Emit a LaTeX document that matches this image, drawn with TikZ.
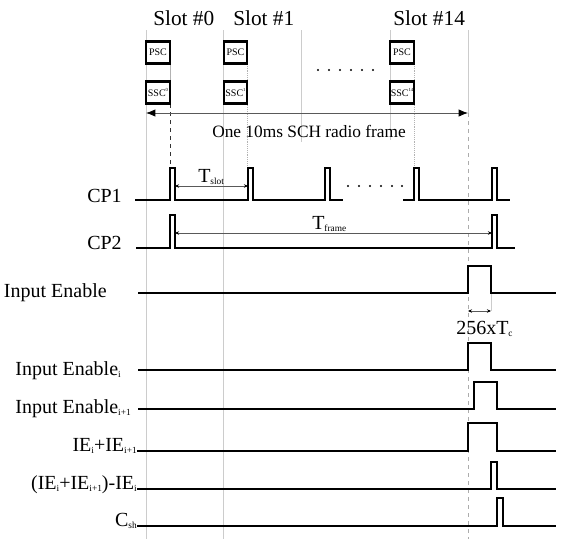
\documentclass[tikz,border=0pt]{standalone}
\usepackage{fontspec}
\setmainfont{Liberation Serif}
\usetikzlibrary{arrows.meta}
\newcommand{\sbs}[1]{\raisebox{-0.3ex}{\fontsize{7}{7}\selectfont #1}}
\newcommand{\sps}[1]{\raisebox{0.9ex}{\fontsize{3.5}{4}\selectfont #1}}
\begin{document}
\begin{tikzpicture}[x=0.75pt,y=-0.75pt,
  sig/.style={line width=1.3pt, line join=miter},
  gridline/.style={gray!40, line width=0.4pt},
  dotline/.style={gray!60, line width=0.4pt, densely dotted},
  lbl/.style={font=\fontsize{15}{15}\selectfont, anchor=base east, inner sep=0pt},
  slotlbl/.style={font=\fontsize{16}{16}\selectfont, anchor=base west, inner sep=0pt},
  codebox/.style={draw, fill=white, line width=1.7pt, minimum width=17.5pt, minimum height=16.5pt, inner sep=0pt, font=\fontsize{7.5}{7.5}\selectfont},
  dimarrow/.style={gray!70!black, line width=0.5pt, {Stealth[length=3pt,width=2.6pt,color=black]}-{Stealth[length=3pt,width=2.6pt,color=black]}},
  bigarrow/.style={gray!70!black, line width=0.6pt, {Latex[length=7pt,width=5.5pt,color=black]}-{Latex[length=7pt,width=5.5pt,color=black]}},
  dimtext/.style={font=\fontsize{15}{15}\selectfont, anchor=base west, inner sep=0pt},
]
\useasboundingbox (0,0) rectangle (564,539);

% ---------- vertical guide lines ----------
\draw[gridline] (146,30) -- (146,539);
\draw[gridline] (223,30) -- (223,539);
\draw[gridline] (301,30) -- (301,142);
\draw[gridline] (390,30) -- (390,140);
\draw[gridline] (468,30) -- (468,113);
\draw[gray!65, line width=0.6pt, dashed] (468,113) -- (468,539);
\draw[dotline] (247.5,64) -- (247.5,168);
\draw[dotline] (414,64) -- (414,168);
\draw[gray!60, line width=0.4pt] (170,64) -- (170,81);
\draw[black!80, line width=0.5pt, dashed] (170,104) -- (170,168);
\draw[gray!40, line width=0.4pt] (491,293) -- (491,311);

% ---------- slot labels ----------
\node[slotlbl] (s0) at (153,26) {Slot \#0};
\node[slotlbl] (s1) at (233,26) {Slot \#1};
\node[slotlbl] (s14) at (393,26) {Slot \#14};

% ---------- code boxes ----------
\node[codebox] (psc0) at (158,52.5) {PSC};
\node[codebox] (ssc0) at (158,92.5) {SSC\sps{0}};
\node[codebox] (psc1) at (235.5,52.5) {PSC};
\node[codebox] (ssc1) at (235.5,92.5) {SSC\sps{1}};
\node[codebox] (psc14) at (402,52.5) {PSC};
\node[codebox] (ssc14) at (402,92.5) {SSC\sps{14}};

% dots between slots
\foreach \xx in {318,329,340,351,362,373} \fill (\xx,70) circle (0.9pt);
\foreach \xx in {348,359,370,381,392,402} \fill (\xx,186) circle (0.9pt);

% ---------- radio frame arrow ----------
\coordinate (rfL) at (146,113);
\coordinate (rfR) at (468,113);
\draw[bigarrow] (rfL) -- (rfR);
\node[font=\fontsize{13}{13}\selectfont, anchor=base west, inner sep=0pt] (rf) at (212,137) {One 10ms SCH radio frame};

% ---------- signal labels ----------
\node[lbl] (cp1) at (122,202) {CP1};
\node[lbl] (cp2) at (122,249) {CP2};
\node[lbl] (ie) at (107,297) {Input Enable};
\node[lbl] (iei) at (121,375) {Input Enable\sbs{i}};
\node[lbl] (iei1) at (131,413) {Input Enable\sbs{i+1}};
\node[lbl] (sum) at (137,451) {IE\sbs{i}+IE\sbs{i+1}};
\node[lbl] (diff) at (137,489) {(IE\sbs{i}+IE\sbs{i+1})-IE\sbs{i}};
\node[lbl] (csh) at (137,526) {C\sbs{sh}};

% ---------- waveforms ----------
% CP1
\draw[sig] (135,200) -- (170,200) -- (170,168) -- (175,168) -- (175,200)
  -- (248,200) -- (248,168) -- (253,168) -- (253,200)
  -- (325,200) -- (325,168) -- (330,168) -- (330,200) -- (343,200);
\draw[sig] (403,200) -- (414,200) -- (414,168) -- (419,168) -- (419,200)
  -- (492,200) -- (492,168) -- (497,168) -- (497,200) -- (510,200);
% CP2
\draw[sig] (136,248) -- (170,248) -- (170,215) -- (175,215) -- (175,248)
  -- (492,248) -- (492,215) -- (497,215) -- (497,248) -- (515,248);
% Input Enable
\draw[sig] (138,293) -- (468,293) -- (468,266) -- (491,266) -- (491,293) -- (556,293);
% Input Enable_i
\draw[sig] (138,370) -- (468,370) -- (468,343) -- (491,343) -- (491,370) -- (556,370);
% Input Enable_i+1
\draw[sig] (138,409) -- (474,409) -- (474,382) -- (497,382) -- (497,409) -- (556,409);
% IE_i + IE_i+1
\draw[sig] (137,451) -- (468,451) -- (468,423) -- (497,423) -- (497,451) -- (556,451);
% (IE_i+IE_i+1)-IE_i
\draw[sig] (137,489) -- (491,489) -- (491,462) -- (497,462) -- (497,489) -- (556,489);
% C_sh
\draw[sig] (137,526) -- (497,526) -- (497,498) -- (503,498) -- (503,526) -- (556,526);

% ---------- dimension arrows ----------
\coordinate (tsL) at (175,186);
\coordinate (tsR) at (248,186);
\draw[dimarrow] (tsL) -- (tsR);
\node[dimtext] (tslot) at (198,182) {T\sbs{slot}};

\coordinate (tfL) at (175,233);
\coordinate (tfR) at (492,233);
\draw[dimarrow] (tfL) -- (tfR);
\node[dimtext] (tframe) at (312,229) {T\sbs{frame}};

\coordinate (tcL) at (468,311);
\coordinate (tcR) at (491,311);
\draw[dimarrow] (tcL) -- (tcR);
\node[dimtext] (tc) at (456,334) {256xT\sbs{c}};

\end{tikzpicture}
\end{document}
